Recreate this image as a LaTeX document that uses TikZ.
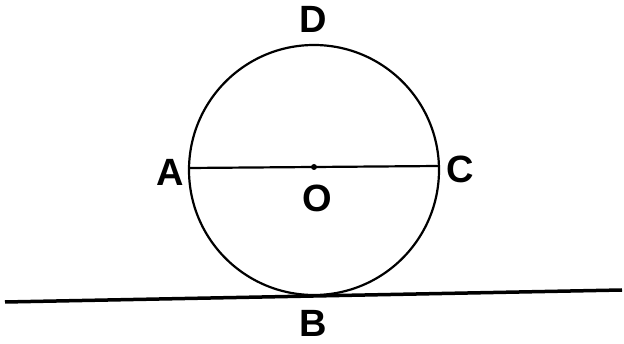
\documentclass[tikz,border=0pt]{standalone}
\usepackage{fontspec}
\setmainfont{Liberation Sans}
\begin{document}
\begin{tikzpicture}[x=1pt,y=-1pt,
  lbl/.style={font=\fontsize{38}{38}\selectfont\bfseries, inner sep=0pt},
  geo/.style={line width=2.2pt, black}]
\useasboundingbox (0,0) rectangle (624,344);
\coordinate (O) at (314,170);
\draw[geo] (O) circle[radius=125];
\coordinate (A) at (189,168);
\coordinate (C) at (439,166);
\coordinate (L) at (5,302);
\coordinate (R) at (622,290);
\draw[geo] (A) -- (C);
\fill (314,167) circle[radius=3];
\draw[line width=3.5pt] (L) -- (R);
\node[lbl] (lD) at (313,19) {D};
\node[lbl] (lA) at (170,172) {A};
\node[lbl] (lC) at (460,169) {C};
\node[lbl] (lO) at (317,198) {O};
\node[lbl] (lB) at (313,323) {B};
\end{tikzpicture}
\end{document}
